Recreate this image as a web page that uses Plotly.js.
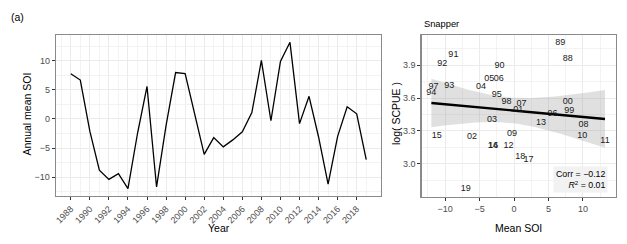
<!DOCTYPE html>
<html><head><meta charset="utf-8">
<script src="https://cdn.plot.ly/plotly-3.0.1.min.js"></script>
<style>html,body{margin:0;padding:0;background:#fff}</style>
</head><body><div id="chart" style="width:627px;height:244px"></div>
<script>
const years = [1988,1989,1990,1991,1992,1993,1994,1995,1996,1997,1998,1999,2000,2001,2002,2003,2004,2005,2006,2007,2008,2009,2010,2011,2012,2013,2014,2015,2016,2017,2018,2019];
const soi = [7.8,6.7,-2.1,-8.8,-10.4,-9.4,-12.0,-2.5,5.6,-11.7,-1.1,8.0,7.8,0.6,-6.1,-3.2,-4.8,-3.6,-2.2,1.1,10.1,-0.3,9.9,13.2,-0.8,3.9,-3.1,-11.2,-3.0,2.1,0.9,-7.0];
const yearLabels = ["88","89","90","91","92","93","94","95","96","97","98","99","00","01","02","03","04","05","06","07","08","09","10","11","12","13","14","15","16","17","18","19"];
const logScpue = [3.958,4.107,3.897,3.994,3.918,3.711,3.653,3.628,3.461,3.708,3.562,3.482,3.562,3.491,3.242,3.406,3.704,3.781,3.781,3.544,3.354,3.278,3.257,3.214,3.165,3.375,3.168,3.254,3.168,3.034,3.064,2.767];
const yearTicks = [1988,1990,1992,1994,1996,1998,2000,2002,2004,2006,2008,2010,2012,2014,2016,2018];
const soiTicks = [-10,-5,0,5,10];
const scpueTicks = [3.0,3.3,3.6,3.9];
const scpueTickText = ["3.0","3.3","3.6","3.9"];
const corrText = "Corr = \u22120.12";
const r2Text = "<i>R</i><sup>2</sup> = 0.01";

// linear fit + 95% CI band (computed from data)
const n = soi.length;
const mx = soi.reduce((a,b)=>a+b,0)/n, my = logScpue.reduce((a,b)=>a+b,0)/n;
let sxx=0, sxy=0;
for (let i=0;i<n;i++){ sxx+=(soi[i]-mx)**2; sxy+=(soi[i]-mx)*(logScpue[i]-my); }
const b1 = sxy/sxx, b0 = my - b1*mx;
let sse=0; for (let i=0;i<n;i++){ sse += (logScpue[i]-(b0+b1*soi[i]))**2; }
const s = Math.sqrt(sse/(n-2)), tq = 2.042;
const xmin = Math.min(...soi), xmax = Math.max(...soi);
const fx=[], fy=[], up=[], lo=[];
for (let k=0;k<=80;k++){
  const x = xmin + (xmax-xmin)*k/80;
  const y = b0 + b1*x;
  const se = s*Math.sqrt(1/n + (x-mx)**2/sxx);
  fx.push(x); fy.push(y); up.push(y+tq*se); lo.push(y-tq*se);
}

const W=627, H=244;
const px = v => v/W, py = v => 1 - v/H;
const font = "Liberation Sans, Arial, sans-serif";
const border = '#8a8a8a';
const gridc = '#ebebeb';
function axisBase(extra){
  return Object.assign({
    showline:true, mirror:true, linecolor:border, linewidth:1.3,
    showgrid:true, gridcolor:gridc, gridwidth:1, zeroline:false,
    ticks:'outside', ticklen:3, tickcolor:'#333', tickwidth:1,
    tickfont:{family:font, size:9, color:'#4d4d4d'}
  }, extra);
}
const minorGrid = (t0, d) => ({showgrid:true, gridcolor:gridc, gridwidth:0.6, tick0:t0, dtick:d, ticks:''});

const traces = [
  {x:years, y:soi, type:'scatter', mode:'lines', line:{color:'#000', width:1.3}, xaxis:'x', yaxis:'y', hoverinfo:'skip'},
  {x:fx.concat(fx.slice().reverse()), y:up.concat(lo.slice().reverse()), type:'scatter', mode:'lines', fill:'toself', fillcolor:'rgba(153,153,153,0.3)', line:{width:0}, xaxis:'x2', yaxis:'y2', hoverinfo:'skip'},
  {x:fx, y:fy, type:'scatter', mode:'lines', line:{color:'#000', width:2.4}, xaxis:'x2', yaxis:'y2', hoverinfo:'skip'},
  {x:soi, y:logScpue, text:yearLabels, type:'scatter', mode:'text', textposition:'middle center', textfont:{family:font, size:9, color:'#1a1a1a'}, xaxis:'x2', yaxis:'y2', hoverinfo:'skip'}
];

const layout = {
  width:W, height:H, margin:{l:0,r:0,t:0,b:0}, paper_bgcolor:'#fff', plot_bgcolor:'#fff', showlegend:false,
  font:{family:font},
  xaxis: axisBase({domain:[px(56), px(381)], range:[1986.45, 2020.55], tickmode:'array', tickvals:yearTicks, tickangle:-45, anchor:'y', minor:minorGrid(1989, 2)}),
  yaxis: axisBase({domain:[py(196), py(35)], range:[-13.26, 14.46], tickmode:'array', tickvals:soiTicks, anchor:'x', minor:minorGrid(2.5, 5)}),
  xaxis2: axisBase({domain:[px(421.7), px(616)], range:[-13.4, 14.8], tickmode:'array', tickvals:soiTicks, anchor:'y2', minor:minorGrid(2.5, 5)}),
  yaxis2: axisBase({domain:[py(196.7), py(35)], range:[2.698, 4.177], tickmode:'array', tickvals:scpueTicks, ticktext:scpueTickText, anchor:'x2', minor:minorGrid(3.15, 0.3)}),
  annotations: [
    {text:'(a)', xref:'paper', yref:'paper', x:px(9), y:py(16.5), xanchor:'left', yanchor:'middle', showarrow:false, font:{family:font, size:10.5, color:'#000'}},
    {text:'Annual mean SOI', xref:'paper', yref:'paper', x:px(27), y:py(114.5), xanchor:'center', yanchor:'middle', textangle:-90, showarrow:false, font:{family:font, size:10.5, color:'#000'}},
    {text:'Year', xref:'paper', yref:'paper', x:px(218.5), y:py(228), xanchor:'center', yanchor:'middle', showarrow:false, font:{family:font, size:10.5, color:'#000'}},
    {text:'Snapper', xref:'paper', yref:'paper', x:px(421.5), y:py(24.5), xanchor:'left', yanchor:'middle', showarrow:false, font:{family:font, size:9.3, color:'#000'}},
    {text:'log( SCPUE )', xref:'paper', yref:'paper', x:px(396), y:py(114), xanchor:'center', yanchor:'middle', textangle:-90, showarrow:false, font:{family:font, size:10.5, color:'#000'}},
    {text:'Mean SOI', xref:'paper', yref:'paper', x:px(518.5), y:py(228), xanchor:'center', yanchor:'middle', showarrow:false, font:{family:font, size:10.5, color:'#000'}},
    {text:corrText + '<br>' + r2Text, xref:'paper', yref:'paper', x:px(607.5), y:py(179), xanchor:'right', yanchor:'middle', align:'right', showarrow:false, bgcolor:'#f2f2f2', borderpad:2, font:{family:font, size:8.8, color:'#000'}}
  ]
};
Plotly.newPlot('chart', traces, layout, {displayModeBar:false, staticPlot:true});
</script></body></html>
